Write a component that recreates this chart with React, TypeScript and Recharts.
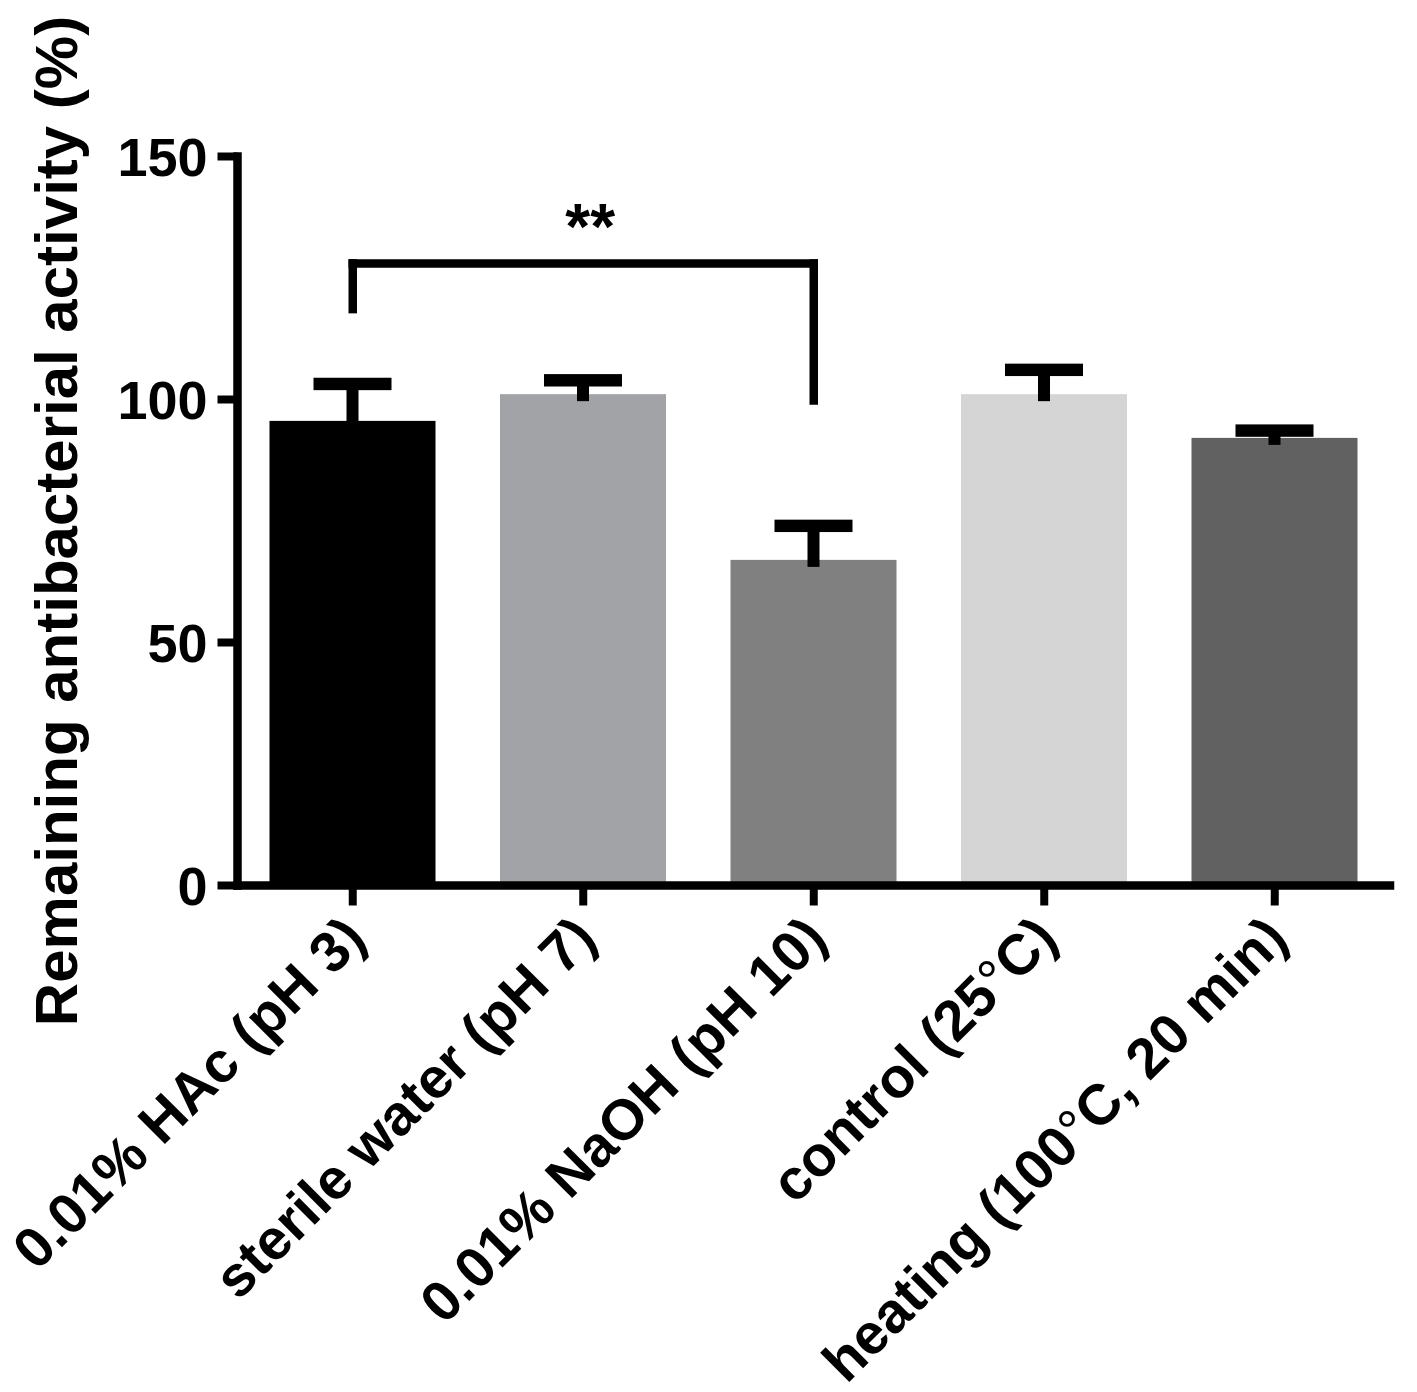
import { BarChart, Bar, XAxis, YAxis, Cell, ReferenceLine } from "recharts";

// groups on the x axis
const categories = [
  "0.01% HAc (pH 3)",
  "sterile water (pH 7)",
  "0.01% NaOH (pH 10)",
  "control (25°C)",
  "heating (100°C, 20 min)",
];
// mean remaining activity (%) and upper error (SD)
const means = [95.6, 101.1, 67.0, 101.1, 92.1];
const errors = [7.6, 2.85, 7.0, 5.0, 1.5];
const yTicks = [0, 50, 100, 150];

// significance bracket between group 1 and group 3
const bracketTop = 128;
const bracketLeftEnd = 118.6;
const bracketRightEnd = 99.8;
const bracketText = "**";

const barColors = ["#000000", "#a2a3a6", "#808080", "#d5d5d5", "#616161"];
const FONT = "'Liberation Sans', Arial, Helvetica, sans-serif";

const data = categories.map((name, i) => ({ name, mean: means[i], err: errors[i] }));

function BarWithError(props: any) {
  const { x, y, width, height, payload, index } = props;
  const perUnit = height / payload.mean;
  const capY = y - payload.err * perUnit;
  const cx = x + width / 2;
  return (
    <g>
      <rect x={x} y={y} width={width} height={height} fill={barColors[index]} />
      <rect x={cx - 6} y={capY} width={12} height={y + 7 - capY} fill="#000" />
      <rect x={cx - 39} y={capY - 6.2} width={78} height={12.4} fill="#000" />
    </g>
  );
}

function XTick({ x, y, payload }: any) {
  const label = String(payload.value);
  const parts = label.split("°");
  return (
    <g transform={`translate(${x},${y})`}>
      <text
        transform="rotate(-45)"
        x={-14}
        y={36}
        textAnchor="end"
        fontSize={57}
        fontWeight="bold"
        fontFamily={FONT}
        fill="#000"
      >
        {parts[0]}
        {parts.length > 1 && (
          <>
            <tspan fontWeight="normal">°</tspan>
            {parts[1]}
          </>
        )}
      </text>
    </g>
  );
}

function YTitle({ viewBox }: any) {
  const cx = viewBox.x - 23;
  const cy = viewBox.y + viewBox.height / 2;
  return (
    <text
      x={cx}
      y={cy}
      transform={`rotate(-90, ${cx}, ${cy})`}
      textAnchor="middle"
      fontSize={60}
      fontWeight="bold"
      fontFamily={FONT}
      fill="#000"
    >
      Remaining antibacterial activity (%)
    </text>
  );
}

function StarLabel({ viewBox }: any) {
  return (
    <text
      x={viewBox.x + viewBox.width / 2 + 7}
      y={viewBox.y - 14}
      textAnchor="middle"
      fontSize={64}
      fontWeight="bold"
      fontFamily={FONT}
      fill="#000"
    >
      {bracketText}
    </text>
  );
}

export default function App() {
  const line = { stroke: "#000", strokeWidth: 8.5, strokeLinecap: "square" as const };
  return (
    <div style={{ position: "absolute", left: 0, top: 0, width: 1417, height: 1392, background: "#fff" }}>
      <BarChart
        width={1417}
        height={1392}
        data={data}
        margin={{ top: 156.5, right: 27, bottom: 446.5, left: 100 }}
        barSize={166}
      >
        <XAxis
          dataKey="name"
          height={60}
          interval={0}
          tickSize={20}
          tickMargin={0}
          axisLine={line}
          tickLine={{ stroke: "#000", strokeWidth: 8 }}
          tick={<XTick />}
        />
        <YAxis
          width={137.5}
          domain={[0, 150]}
          ticks={yTicks}
          tickSize={20}
          tickMargin={10}
          axisLine={line}
          tickLine={{ stroke: "#000", strokeWidth: 8 }}
          tick={{ fill: "#000", fontSize: 54, fontWeight: "bold", fontFamily: FONT }}
          label={{ content: <YTitle /> }}
        />
        <Bar dataKey="mean" isAnimationActive={false} shape={<BarWithError />}>
          {data.map((d, i) => (
            <Cell key={d.name} fill={barColors[i]} />
          ))}
        </Bar>
        <ReferenceLine
          segment={[
            { x: categories[0], y: bracketLeftEnd },
            { x: categories[0], y: bracketTop },
          ]}
          stroke="#000"
          strokeWidth={8.5}
          strokeLinecap="square"
        />
        <ReferenceLine
          segment={[
            { x: categories[2], y: bracketRightEnd },
            { x: categories[2], y: bracketTop },
          ]}
          stroke="#000"
          strokeWidth={8.5}
          strokeLinecap="square"
        />
        <ReferenceLine
          segment={[
            { x: categories[0], y: bracketTop },
            { x: categories[2], y: bracketTop },
          ]}
          stroke="#000"
          strokeWidth={8.5}
          strokeLinecap="square"
          label={<StarLabel />}
        />
      </BarChart>
    </div>
  );
}
